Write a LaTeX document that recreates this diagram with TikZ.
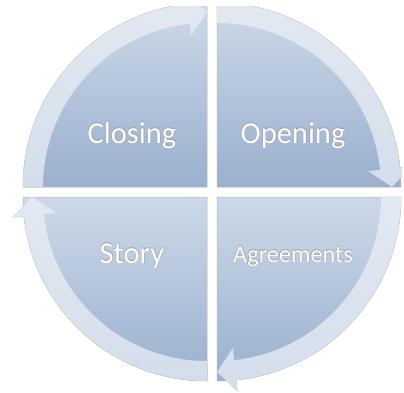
\documentclass[tikz,border=0pt]{standalone}
\usepackage{fontspec}
\setmainfont{Carlito}

\definecolor{pietop}{RGB}{205,217,232}
\definecolor{piebot}{RGB}{154,176,206}
\definecolor{bandtop}{RGB}{227,233,242}
\definecolor{bandbot}{RGB}{212,222,235}
\definecolor{rimgray}{RGB}{178,184,192}

\tikzset{
  slice/.style={top color=pietop, bottom color=piebot, draw=rimgray, line width=0.5pt},
  bandfill/.style={top color=bandtop, bottom color=bandbot},
  bandrim/.style={draw=rimgray, line width=0.5pt},
  stagetext/.style={text=white, inner sep=0pt, anchor=base},
  stageshade/.style={stagetext, text=gray!80, opacity=0.45},
}

\begin{document}
\begin{tikzpicture}[x=1pt,y=1pt]
  \useasboundingbox (0,0) rectangle (404,392);
  \clip (0,0) rectangle (402,385);
  % four quadrants, each with its arrow
  \foreach \dx/\dy/\startang in {5/5/90, -5/5/180, -5/-5/270, 5/-5/0}{
    \pgfmathsetmacro\endang{\startang-90}
    \pgfmathsetmacro\headang{\startang-84}
    \begin{scope}[shift={(212+\dx,200+\dy)}]
      \path[bandrim] (\startang:164) arc[start angle=\startang, end angle=\headang, radius=164]
        -- (\headang:152) -- (\endang:175) -- (\headang:195) -- (\headang:184)
        arc[start angle=\headang, end angle=\startang, radius=184] -- cycle;
      \path[slice] (0,0) -- (\startang:184) arc[start angle=\startang, end angle=\endang, radius=184] -- cycle;
      \path[bandfill] (\startang:164) arc[start angle=\startang, end angle=\headang, radius=164]
        -- (\headang:152) -- (\endang:175) -- (\headang:195) -- (\headang:184)
        arc[start angle=\headang, end angle=\startang, radius=184] -- cycle;
    \end{scope}
  }
  % labels
  \foreach \name/\xpos/\ypos/\fsize/\word in {closing/132/249/30.5/Closing, opening/293/249/30.5/Opening,
      story/132/129/30.5/Story, agreements/293/130/24.3/Agreements}{
    \foreach \ox/\oy in {0.6/0.6, -0.6/0.6, 0.6/-0.6, -0.6/-0.6}
      \node[stageshade, font=\fontsize{\fsize}{\fsize}\selectfont] at (\xpos+\ox,\ypos+\oy) {\word};
    \node[stagetext, font=\fontsize{\fsize}{\fsize}\selectfont] (\name) at (\xpos,\ypos) {\word};
  }
\end{tikzpicture}
\end{document}
